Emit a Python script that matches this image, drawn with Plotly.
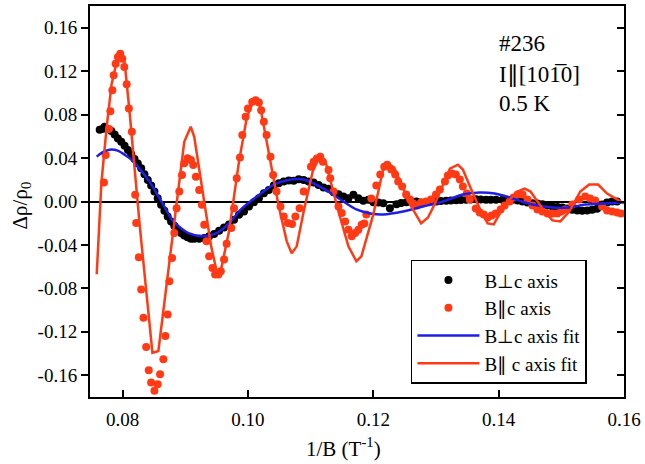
import plotly.graph_objects as go

FONT = "Liberation Serif"
RED = "#FF3A14"
BLUE = "#1E1EE6"

# B perpendicular to c axis: measured oscillation
perp_x = [0.07635, 0.07678, 0.07714, 0.07767, 0.07821, 0.07873, 0.07925, 0.07979, 0.08032, 0.08084,
          0.08138, 0.08190, 0.08243, 0.08297, 0.08349, 0.08402, 0.08456, 0.08508, 0.08560, 0.08614,
          0.08667, 0.08719, 0.08773, 0.08825, 0.08878, 0.08932, 0.08984, 0.09037, 0.09090, 0.09143,
          0.09222, 0.09302, 0.09381, 0.09460, 0.09540, 0.09619, 0.09698, 0.09778, 0.09857, 0.09937,
          0.10016, 0.10095, 0.10175, 0.10254, 0.10333, 0.10413, 0.10492, 0.10571, 0.10651, 0.10730,
          0.10810, 0.10889, 0.10968, 0.11048, 0.11127, 0.11206, 0.11286, 0.11365, 0.11444, 0.11524,
          0.11603, 0.11683, 0.11762, 0.11841, 0.11921, 0.12000, 0.12079, 0.12159, 0.12265, 0.12370,
          0.12444, 0.12529, 0.12603, 0.12687, 0.12762, 0.12846, 0.12921, 0.13005, 0.13079, 0.13163,
          0.13238, 0.13322, 0.13397, 0.13481, 0.13556, 0.13640, 0.13714, 0.13798, 0.13873, 0.13957,
          0.14063, 0.14143, 0.14222, 0.14302, 0.14381, 0.14460, 0.14540, 0.14619, 0.14698, 0.14778,
          0.14857, 0.14937, 0.15016, 0.15095, 0.15175, 0.15254, 0.15333, 0.15413, 0.15492, 0.15571,
          0.15651, 0.15730, 0.15810, 0.15889]
perp_y = [0.0661, 0.0667, 0.0688, 0.0667, 0.0649, 0.0617, 0.0581, 0.0550, 0.0514, 0.0474,
          0.0434, 0.0392, 0.0351, 0.0306, 0.0250, 0.0199, 0.0147, 0.0092, 0.0030, -0.0030,
          -0.0085, -0.0138, -0.0183, -0.0223, -0.0260, -0.0291, -0.0312, -0.0330, -0.0342, -0.0342,
          -0.0342, -0.0337, -0.0321, -0.0300, -0.0269, -0.0239, -0.0211, -0.0168, -0.0122, -0.0092,
          -0.0046, -0.0006, 0.0030, 0.0076, 0.0107, 0.0147, 0.0168, 0.0183, 0.0193, 0.0190,
          0.0205, 0.0199, 0.0183, 0.0174, 0.0153, 0.0128, 0.0117, 0.0085, 0.0067, 0.0046,
          0.0030, 0.0061, 0.0030, 0.0006, 0.0016, -0.0006, -0.0009, -0.0016, -0.0061, -0.0025,
          -0.0014, -0.0006, 0.0000, 0.0000, -0.0009, -0.0006, 0.0000, 0.0000, 0.0005, 0.0006,
          0.0009, 0.0012, 0.0014, 0.0016, 0.0018, 0.0021, 0.0018, 0.0016, 0.0016, 0.0016,
          0.0016, 0.0016, 0.0016, 0.0009, 0.0000, -0.0009, -0.0016, -0.0018, -0.0025, -0.0037,
          -0.0046, -0.0050, -0.0055, -0.0064, -0.0076, -0.0083, -0.0085, -0.0083, -0.0076, -0.0067,
          -0.0028, -0.0009, 0.0000, 0.0000]

# B parallel to c axis: measured oscillation
par_x = [0.07703, 0.07730, 0.07783, 0.07805, 0.07837, 0.07857, 0.07889, 0.07926, 0.07963, 0.07995,
         0.08027, 0.08065, 0.08100, 0.08148, 0.08201, 0.08217, 0.08259, 0.08297, 0.08333, 0.08376,
         0.08417, 0.08455, 0.08508, 0.08560, 0.08598, 0.08651, 0.08683, 0.08719, 0.08746, 0.08789,
         0.08825, 0.08862, 0.08905, 0.08948, 0.08984, 0.09037, 0.09090, 0.09127, 0.09170, 0.09222,
         0.09265, 0.09302, 0.09338, 0.09381, 0.09433, 0.09476, 0.09529, 0.09567, 0.09619, 0.09660,
         0.09735, 0.09778, 0.09821, 0.09873, 0.09910, 0.09963, 0.10000, 0.10068, 0.10122, 0.10175,
         0.10211, 0.10254, 0.10297, 0.10360, 0.10402, 0.10456, 0.10519, 0.10571, 0.10635, 0.10703,
         0.10757, 0.10825, 0.10889, 0.11005, 0.11048, 0.11100, 0.11154, 0.11195, 0.11286, 0.11313,
         0.11365, 0.11444, 0.11497, 0.11551, 0.11603, 0.11656, 0.11710, 0.11762, 0.11814, 0.11857,
         0.11889, 0.11968, 0.12048, 0.12111, 0.12175, 0.12222, 0.12286, 0.12349, 0.12397, 0.12460,
         0.12524, 0.12587, 0.12635, 0.12698, 0.12762, 0.12841, 0.12921, 0.13000, 0.13063, 0.13143,
         0.13190, 0.13254, 0.13317, 0.13381, 0.13429, 0.13492, 0.13540, 0.13635, 0.13698, 0.13762,
         0.13825, 0.13889, 0.13952, 0.14032, 0.14095, 0.14175, 0.14238, 0.14302, 0.14381, 0.14460,
         0.14540, 0.14619, 0.14698, 0.14778, 0.14857, 0.14937, 0.15000, 0.15063, 0.15175, 0.15286,
         0.15381, 0.15460, 0.15540, 0.15651, 0.15730, 0.15810, 0.15889, 0.15952]
par_y = [0.0174, 0.0428, 0.0667, 0.0832, 0.1025, 0.1162, 0.1269, 0.1330, 0.1361, 0.1315,
         0.1239, 0.1080, 0.0856, 0.0642, 0.0061, -0.0199, -0.0514, -0.0810, -0.1070, -0.1339,
         -0.1553, -0.1667, -0.1743, -0.1682, -0.1590, -0.1453, -0.1239, -0.1040, -0.0734, -0.0520,
         -0.0291, -0.0061, 0.0092, 0.0245, 0.0352, 0.0398, 0.0382, 0.0336, 0.0229, 0.0107,
         -0.0031, -0.0214, -0.0367, -0.0505, -0.0612, -0.0673, -0.0673, -0.0642, -0.0535, -0.0390,
         -0.0245, -0.0061, 0.0214, 0.0404, 0.0612, 0.0780, 0.0856, 0.0917, 0.0933, 0.0911,
         0.0841, 0.0734, 0.0612, 0.0413, 0.0245, 0.0092, -0.0046, -0.0138, -0.0199, -0.0208,
         -0.0138, -0.0061, 0.0092, 0.0321, 0.0367, 0.0397, 0.0413, 0.0367, 0.0291, 0.0214,
         0.0092, -0.0046, -0.0107, -0.0183, -0.0260, -0.0321, -0.0291, -0.0260, -0.0214, -0.0202,
         -0.0119, 0.0028, 0.0147, 0.0248, 0.0321, 0.0339, 0.0294, 0.0248, 0.0183, 0.0138,
         0.0064, 0.0018, -0.0018, -0.0037, -0.0009, 0.0000, 0.0018, 0.0064, 0.0110, 0.0183,
         0.0239, 0.0257, 0.0248, 0.0202, 0.0138, 0.0073, 0.0018, -0.0064, -0.0101, -0.0119,
         -0.0147, -0.0128, -0.0110, -0.0073, -0.0037, 0.0000, 0.0037, 0.0064, 0.0064, 0.0018,
         -0.0037, -0.0073, -0.0092, -0.0110, -0.0110, -0.0110, -0.0092, -0.0073, -0.0028, 0.0018,
         0.0046, 0.0028, 0.0009, -0.0046, -0.0083, -0.0092, -0.0101, -0.0110]

# Fit curves
perp_fit_x = [0.07587, 0.07698, 0.07794, 0.07921, 0.08032, 0.08143, 0.08270, 0.08429, 0.08556, 0.08683,
              0.08794, 0.08937, 0.09063, 0.09270, 0.09492, 0.09698, 0.09889, 0.10143, 0.10413, 0.10683,
              0.10889, 0.11206, 0.11476, 0.11730, 0.11952, 0.12159, 0.12476, 0.12794, 0.13111, 0.13429,
              0.13698, 0.13937, 0.14222, 0.14540, 0.14857, 0.15127, 0.15381, 0.15698, 0.16000]
perp_fit_y = [0.0413, 0.0459, 0.0477, 0.0468, 0.0431, 0.0385, 0.0303, 0.0183, 0.0064, -0.0064,
              -0.0174, -0.0248, -0.0294, -0.0321, -0.0294, -0.0202, -0.0073, 0.0046, 0.0156, 0.0202,
              0.0202, 0.0119, 0.0018, -0.0073, -0.0110, -0.0119, -0.0092, -0.0046, 0.0000, 0.0064,
              0.0083, 0.0073, 0.0028, -0.0028, -0.0055, -0.0055, -0.0028, -0.0018, -0.0009]

par_fit_x = [0.07587, 0.07662, 0.07746, 0.07825, 0.07905, 0.07968, 0.08032, 0.08111, 0.08270, 0.08476,
             0.08571, 0.08698, 0.08841, 0.08984, 0.09087, 0.09143, 0.09302, 0.09413, 0.09508, 0.09571,
             0.09698, 0.09857, 0.09984, 0.10095, 0.10190, 0.10333, 0.10492, 0.10619, 0.10698, 0.10778,
             0.10889, 0.11032, 0.11154, 0.11238, 0.11444, 0.11603, 0.11730, 0.11810, 0.12000, 0.12159,
             0.12238, 0.12333, 0.12460, 0.12587, 0.12762, 0.12873, 0.12984, 0.13111, 0.13222, 0.13349,
             0.13429, 0.13556, 0.13698, 0.13825, 0.13921, 0.14111, 0.14302, 0.14413, 0.14508, 0.14698,
             0.14857, 0.14984, 0.15127, 0.15302, 0.15444, 0.15587, 0.15730, 0.16000]
par_fit_y = [-0.0670, 0.0174, 0.0688, 0.1083, 0.1284, 0.1330, 0.1284, 0.0826, -0.0202, -0.1394,
             -0.1376, -0.0780, -0.0110, 0.0550, 0.0688, 0.0596, 0.0000, -0.0413, -0.0661, -0.0624,
             -0.0275, 0.0367, 0.0780, 0.0936, 0.0890, 0.0459, -0.0046, -0.0367, -0.0477, -0.0413,
             -0.0092, 0.0275, 0.0431, 0.0367, -0.0092, -0.0413, -0.0550, -0.0505, -0.0119, 0.0303,
             0.0349, 0.0312, 0.0138, -0.0028, -0.0202, -0.0147, -0.0018, 0.0156, 0.0303, 0.0339,
             0.0294, 0.0119, -0.0064, -0.0202, -0.0211, -0.0018, 0.0092, 0.0119, 0.0092, -0.0064,
             -0.0174, -0.0183, -0.0092, 0.0092, 0.0156, 0.0156, 0.0073, -0.0018]

x_ticks = [0.08, 0.10, 0.12, 0.14, 0.16]
y_ticks = [-0.16, -0.12, -0.08, -0.04, 0.00, 0.04, 0.08, 0.12, 0.16]
x_range = [0.0748, 0.16]
y_range = [-0.18, 0.18]

fig = go.Figure()
fig.add_trace(go.Scatter(x=perp_x, y=perp_y, mode="markers", name="B\u22a5c axis",
                         marker=dict(color="black", size=8)))
fig.add_trace(go.Scatter(x=par_x, y=par_y, mode="markers", name="B\u2225c axis",
                         marker=dict(color=RED, size=8)))
fig.add_trace(go.Scatter(x=perp_fit_x, y=perp_fit_y, mode="lines", name="B\u22a5c axis fit",
                         line=dict(color=BLUE, width=2.5, shape="spline", smoothing=0.8)))
fig.add_trace(go.Scatter(x=par_fit_x, y=par_fit_y, mode="lines", name="B\u2225 c axis fit",
                         line=dict(color=RED, width=2.5)))
# invisible trace so the right-hand tick axis is drawn
fig.add_trace(go.Scatter(x=[x_range[0]], y=[0], yaxis="y2", mode="markers",
                         marker=dict(opacity=0), showlegend=False, hoverinfo="skip"))

fig.update_layout(
    width=645, height=464,
    margin=dict(l=90, r=18, t=4, b=67),
    paper_bgcolor="white", plot_bgcolor="white",
    font=dict(family=FONT, size=19, color="black"),
    showlegend=True,
    legend=dict(x=0.601, y=0.351, xanchor="left", yanchor="top",
                bordercolor="black", borderwidth=1.5, bgcolor="white",
                font=dict(family=FONT, size=19), tracegroupgap=0,
                itemwidth=62),
    xaxis=dict(range=x_range, tickvals=x_ticks, ticktext=[f"{v:.2f}" for v in x_ticks],
               ticks="inside", ticklen=7, tickwidth=1.5, tickcolor="black",
               showline=True, linewidth=2, linecolor="black", mirror=True,
               showgrid=False, zeroline=False, tickfont=dict(family=FONT, size=19),
               ticklabelstandoff=4),
    yaxis=dict(range=y_range, tickvals=y_ticks, ticktext=[f"{v:.2f}" for v in y_ticks],
               ticks="outside", ticklen=7, tickwidth=1.5, tickcolor="black",
               showline=True, linewidth=2, linecolor="black", mirror=True,
               showgrid=False, zeroline=True, zerolinecolor="black", zerolinewidth=1.5,
               tickfont=dict(family=FONT, size=19)),
    yaxis2=dict(range=y_range, overlaying="y", side="right", tickvals=y_ticks,
                ticks="inside", ticklen=7, tickwidth=1.5, tickcolor="black",
                showticklabels=False, showgrid=False, zeroline=False, showline=False),
)

fig.add_annotation(x=-0.13, y=0.489, xref="paper", yref="paper", text="\u0394\u03c1/\u03c1<sub>0</sub>",
                   textangle=-90, xanchor="center", yanchor="middle", showarrow=False,
                   font=dict(family=FONT, size=21))
fig.add_annotation(x=0.475, y=-0.13, xref="paper", yref="paper", text="1/B (T<sup>-1</sup>)",
                   xanchor="center", yanchor="middle", showarrow=False,
                   font=dict(family=FONT, size=21))

for txt, yy in [("#236", 0.903), ("I\u2225[101\u03050]", 0.824), ("0.5 K", 0.751)]:
    fig.add_annotation(x=0.763, y=yy, xref="paper", yref="paper", text=txt,
                       xanchor="left", yanchor="middle", showarrow=False,
                       font=dict(family=FONT, size=23))

fig.write_html("out.html")
